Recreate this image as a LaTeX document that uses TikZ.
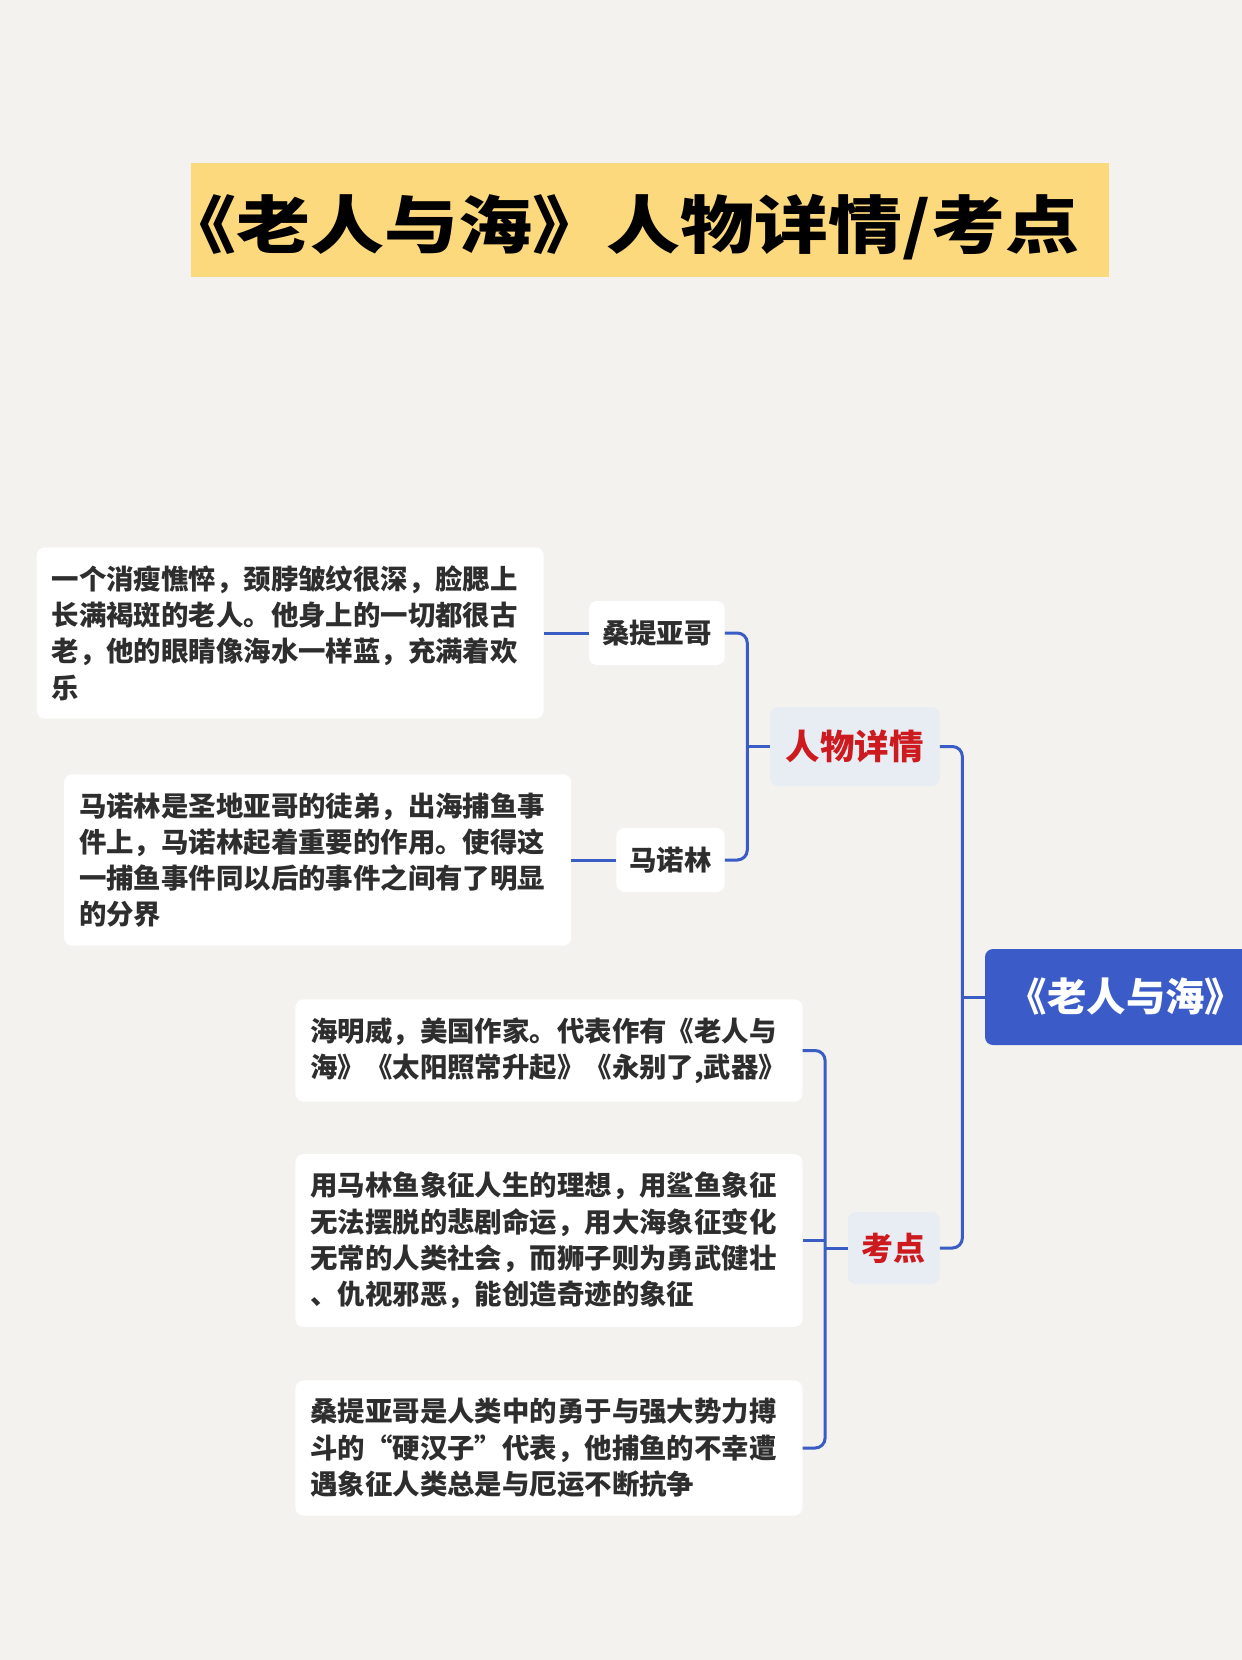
\documentclass[tikz,border=0pt]{standalone}
\usepackage{fontspec}
\usepackage{graphicx}
\usetikzlibrary{positioning}
\newfontfamily\cjk{Noto Sans CJK SC}
\definecolor{paper}{HTML}{F3F2EF}
\definecolor{bandyellow}{HTML}{FDD97E}
\definecolor{linkblue}{HTML}{3A5CC5}
\definecolor{rootblue}{HTML}{3B5CC8}
\definecolor{topicfill}{HTML}{E8EDF3}
\definecolor{topicred}{HTML}{CC1A1F}
\definecolor{textgray}{HTML}{2E2E2E}
\newcommand{\desctext}{\cjk\bfseries\fontsize{39}{51.6}\selectfont}
\newcommand{\topictext}{\cjk\bfseries\fontsize{49}{58}\selectfont}
\newcommand{\kdtext}{\cjk\bfseries\fontsize{45.5}{54}\selectfont}
\newcommand{\roottext}{\cjk\bfseries\fontsize{56}{64}\selectfont}
\newcommand{\titletext}{\cjk\bfseries\fontsize{89.6}{100}\selectfont}
\tikzstyle{titleband} = [rectangle, fill=bandyellow, minimum width=45.9cm, minimum height=5.7cm]
\tikzstyle{titlestyle} = [inner sep=0pt, text=black, font=\titletext]
\tikzstyle{rootbox} = [rectangle, rounded corners=0.4cm, fill=rootblue, text=white, minimum width=14.1cm, minimum height=4.8cm, font=\roottext]
\tikzstyle{topic} = [rectangle, rounded corners=0.4cm, fill=topicfill, text=topicred, minimum height=3.95cm, inner xsep=0.8cm, font=\topictext]
\tikzstyle{sub} = [rectangle, rounded corners=0.4cm, fill=white, text=textgray, minimum height=3.2cm, inner xsep=0.65cm, font=\desctext]
\tikzstyle{desc} = [rectangle, rounded corners=0.4cm, fill=white, text=textgray, text width=23.85cm, inner xsep=0.75cm, inner ysep=0.9cm, align=left, font=\desctext]
\tikzstyle{branchline} = [line width=0.15cm, draw=linkblue, rounded corners=0.5cm]

\begin{document}
\begin{tikzpicture}[node distance=2.25cm]
        \useasboundingbox (0,0) rectangle (62.1,-83);
        \fill [paper] (0,0) rectangle (62.1,-83);
        % title
        \node (band) [titleband] at (32.5,-11) {};
        \node (title) [titlestyle] at ([xshift=-1.45cm, yshift=-0.375cm]band.center) {\scalebox{1.175}[1]{《老人与海》人物详情/考点}};
        % map
        \node (root) [rootbox] at (56.3,-49.85) {《老人与海》};
        \node (rw) [topic, left=of root, yshift=12.525cm] {人物详情};
        \node (kd) [topic, left=of root, yshift=-12.55cm, inner xsep=0.7cm, minimum height=3.6cm, font=\kdtext] {考点};
        \node (st) [sub, left=of rw, yshift=5.675cm] {桑提亚哥};
        \node (mnl) [sub, left=of rw, yshift=-5.675cm] {马诺林};
        \node (d1) [desc, left=of st] {一个消瘦憔悴，颈脖皱纹很深，脸腮上\\长满褐斑的老人。他身上的一切都很古\\老，他的眼睛像海水一样蓝，充满着欢\\乐};
        \node (d2) [desc, left=of mnl] {马诺林是圣地亚哥的徒弟，出海捕鱼事\\件上，马诺林起着重要的作用。使得这\\一捕鱼事件同以后的事件之间有了明显\\的分界};
        \node (k1) [desc, left=of kd, yshift=9.875cm] {海明威，美国作家。代表作有《老人与\\海》《太阳照常升起》《永别了,武器》};
        \node (k2) [desc, left=of kd, yshift=0.375cm] {用马林鱼象征人生的理想，用鲨鱼象征\\无法摆脱的悲剧命运，用大海象征变化\\无常的人类社会，而狮子则为勇武健壮\\、仇视邪恶，能创造奇迹的象征};
        \node (k3) [desc, left=of kd, yshift=-10cm] {桑提亚哥是人类中的勇于与强大势力搏\\斗的“硬汉子”代表，他捕鱼的不幸遭\\遇象征人类总是与厄运不断抗争};
        \draw [branchline] (root.west) -- ++(-1.125,0);
        \draw [branchline] (rw.east) -- ++(1.125,0) |- (kd.east);
        \draw [branchline] (rw.west) -- ++(-1.125,0);
        \draw [branchline] (st.east) -- ++(1.125,0) |- (mnl.east);
        \draw [branchline] (d1) -- (st);
        \draw [branchline] (d2) -- (mnl);
        \draw [branchline] (kd.west) -- ++(-1.125,0);
        \draw [branchline] (k1.east) -- ++(1.125,0) |- (k3.east);
        \draw [branchline] (k2.east) -- ++(1.125,0);

    \end{tikzpicture}
\end{document}
